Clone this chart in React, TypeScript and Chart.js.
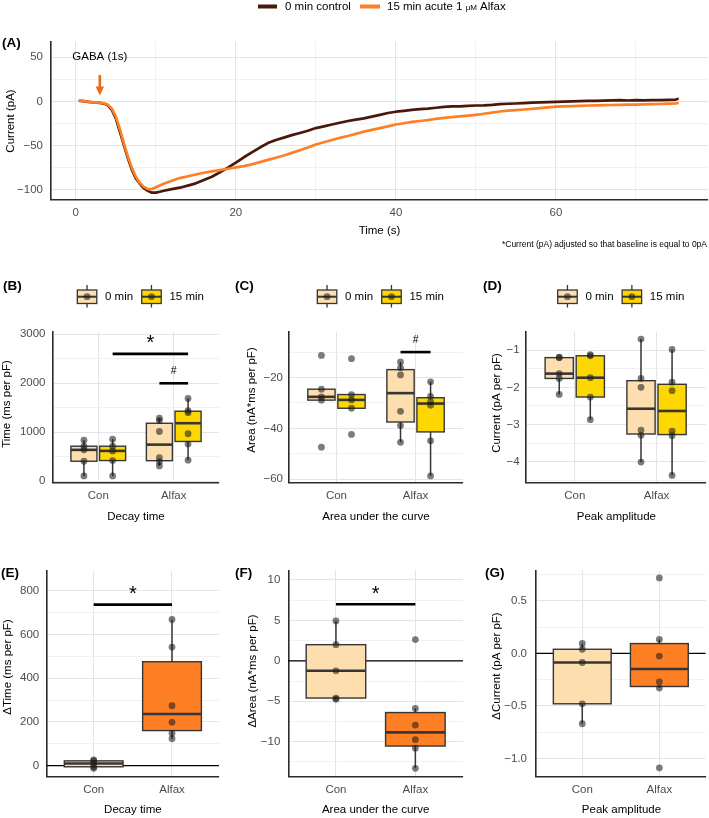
import { useEffect, useRef } from "react";
import { Chart, registerables } from "chart.js";

Chart.register(...registerables);

const W = 709;
const H = 818;
const FONT = '"Liberation Sans", Arial, Helvetica, sans-serif';

// ---------- Panel A: GABA-evoked current traces (pA) ----------
const traceTime = [
  0.5, 1, 1.5, 2, 2.5, 3, 3.5, 4, 4.5, 5, 5.5, 6, 6.5, 7, 7.5, 8, 8.5, 9, 9.5, 10, 10.5,
  11, 12, 13, 14, 15, 16, 17, 18, 19, 20,
  21, 22, 23, 24, 25, 26, 27, 28, 29, 30,
  31, 32, 33, 34, 35, 36, 37, 38, 39, 40,
  41, 42, 43, 44, 45, 46, 47, 48, 49, 50,
  51, 52, 53, 54, 55, 56, 57, 58, 59, 60,
  61, 62, 63, 64, 65, 66, 67, 68, 69, 70,
  71, 72, 73, 74, 75, 75.2,
];
const currentControl = [
  0.8, 0.4, -0.4, -0.8, -1.1, -1.5, -2.3, -4.2, -9.4, -19, -34, -49, -64, -77, -87, -93, -98, -101, -103, -103, -102,
  -100.8, -99, -97.4, -95, -92.5, -88.7, -85, -80, -74.7, -69,
  -63, -57.4, -52, -47, -43.4, -40.8, -38, -35.5, -33, -30,
  -28, -26, -24, -22, -20.5, -19, -17, -15, -13, -11.5,
  -10.5, -9.5, -8.5, -8, -7, -6, -5.5, -5.5, -5, -4.5,
  -4.3, -3.8, -3, -2.5, -2.2, -1.8, -1.2, -1, -0.6, -0.4,
  0, 0.2, 0.4, 0.7, 0.8, 1, 1.3, 1.5, 1.2, 1.5,
  1.3, 1.5, 1.7, 1.9, 2.2, 3,
];
const currentAlfax = [
  0.8, 0.4, -0.2, -0.6, -1, -1.3, -2, -3.6, -8, -17, -31, -47, -62, -75, -85, -92, -96.5, -99, -99, -97, -95,
  -93, -89.5, -86.5, -84.5, -82.5, -80.5, -79, -77.5, -76, -74.5,
  -73, -71, -68.5, -66, -63.5, -61, -58, -55, -52, -48.5,
  -46, -43.5, -41, -39, -36.5, -34, -32, -30, -28, -26,
  -24.5, -23, -22, -21, -19.5, -18.5, -17.7, -16.8, -16, -15,
  -13.8, -12.5, -11.3, -10.3, -9.7, -9, -8.3, -7.5, -6.5, -5.7,
  -5.4, -5.1, -4.8, -4.5, -4.3, -4.1, -3.9, -3.8, -3.6, -3.4,
  -3.2, -3, -2.8, -2.4, -2.1, -1.9,
];
const traceXTicks = [0, 20, 40, 60];
const traceXMinor = [10, 30, 50, 70];
const traceYTicks = [-100, -50, 0, 50];
const traceYMinor = [-75, -25, 25];

// ---------- Panels B–D: per-cell values at 0 and 15 min ----------
const groupLabels = ["Con", "Alfax"];

const decayCon0 = [838, 716, 641, 409, 109];
const decayCon15 = [859, 716, 620, 423, 109];
const decayAlfax0 = [1288, 1240, 1016, 480, 400, 314];
const decayAlfax15 = [1690, 1440, 1400, 970, 760, 430];
const decayTicks = [0, 1000, 2000, 3000];
const decayMinor = [500, 1500, 2500];

const areaCon0 = [-11.3, -24.6, -27.6, -28.9, -47.4];
const areaCon15 = [-12.6, -26.7, -28.8, -32.1, -42.4];
const areaAlfax0 = [-13.9, -16.2, -19.0, -33.3, -38.9, -45.5];
const areaAlfax15 = [-21.7, -27.4, -29.6, -30.9, -44.9, -58.7];
const areaTicks = [-60, -40, -20];
const areaMinor = [-50, -30, -10];

const peakCon0 = [-1.19, -1.2, -1.63, -1.76, -2.19];
const peakCon15 = [-1.12, -1.15, -1.74, -2.26, -2.87];
const peakAlfax0 = [-0.7, -1.76, -2.0, -3.15, -3.29, -4.01];
const peakAlfax15 = [-0.98, -1.86, -2.09, -3.18, -3.3, -4.37];
const peakTicks = [-4, -3, -2, -1];
const peakMinor = [-4.5, -3.5, -2.5, -1.5];

// ---------- Panels E–G: change from 0 to 15 min ----------
const deltaTimeCon = [26, 22, 10, -5, -12];
const deltaTimeAlfax = [668, 542, 274, 198, 148, 123];
const deltaTimeTicks = [0, 200, 400, 600, 800];
const deltaTimeMinor = [100, 300, 500, 700];

const deltaAreaCon = [4.94, 2.0, -1.23, -4.6, -4.75];
const deltaAreaAlfax = [2.63, -5.88, -7.94, -9.75, -10.8, -13.3];
const deltaAreaTicks = [-10, -5, 0, 5, 10];
const deltaAreaMinor = [-12.5, -7.5, -2.5, 2.5, 7.5];

const deltaCurrentCon = [0.096, 0.04, -0.086, -0.48, -0.67];
const deltaCurrentAlfax = [0.72, 0.134, -0.025, -0.27, -0.33, -1.09];
const deltaCurrentTicks = [-1, -0.5, 0, 0.5];
const deltaCurrentMinor = [-0.75, -0.25, 0.25, 0.75];

// ---------- styling ----------
const TICK_COLOR = "#4d4d4d";
const AXIS_COLOR = "#2b2b2b";
const GRID_MAJOR = "#e4e4e4";
const GRID_MINOR = "#eeeeee";
const EDGE = "#363636";
const C_BOX0 = "#FDDEAE";
const C_BOX15 = "#FFD700";
const C_DELTA = "#FF7F24";
const C_LINE0 = "#4a170b";
const C_LINE15 = "#FF7F27";
const C_ARROW = "#EA6A1C";
const C_POINT = "rgba(30,30,30,0.58)";
const Y_AXIS_W = 40;
const X_AXIS_H = 30;
const DODGE = 0.19;

type Rect = { l: number; t: number; r: number; b: number };

const fmtInt = (v: number) => (v < 0 ? "\u2212" + Math.abs(v) : String(v));
const fmtOne = (v: number) => (v < 0 ? "\u2212" : "") + Math.abs(v).toFixed(1);

function scaleOpts(
  min: number,
  max: number,
  major: number[],
  minor: number[],
  fmt: (v: number) => string,
  pad: number,
  axis: "x" | "y"
) {
  const all = [...major, ...minor].sort((a, b) => a - b);
  const isMajor = (v: number) => major.some((m) => Math.abs(m - v) < 1e-9);
  return {
    type: "linear" as const,
    min,
    max,
    afterBuildTicks: (s: any) => {
      s.ticks = all.map((v) => ({ value: v }));
    },
    afterFit: (s: any) => {
      if (axis === "x") s.height = X_AXIS_H;
      else s.width = Y_AXIS_W;
    },
    ticks: {
      autoSkip: false,
      maxRotation: 0,
      minRotation: 0,
      padding: pad,
      color: TICK_COLOR,
      font: { family: FONT, size: 11.5 },
      callback: (v: any) => (isMajor(Number(v)) ? fmt(Number(v)) : ""),
    },
    grid: {
      drawTicks: false,
      color: (c: any) => (c.tick && isMajor(c.tick.value) ? GRID_MAJOR : GRID_MINOR),
      lineWidth: (c: any) => (c.tick && isMajor(c.tick.value) ? 1.1 : 0.8),
    },
    border: { display: true, color: AXIS_COLOR, width: 1.6 },
  };
}

function frameOptions(area: Rect, x: any, y: any) {
  return {
    animation: false as const,
    responsive: false,
    maintainAspectRatio: false,
    devicePixelRatio: 1,
    events: [] as any[],
    layout: {
      padding: {
        left: area.l - Y_AXIS_W,
        top: area.t,
        right: W - area.r,
        bottom: H - area.b - X_AXIS_H,
      },
    },
    plugins: { legend: { display: false }, tooltip: { enabled: false } },
    scales: { x, y },
  };
}

function drawText(
  ctx: CanvasRenderingContext2D,
  str: string,
  x: number,
  y: number,
  o: { size?: number; weight?: string; align?: CanvasTextAlign; color?: string; rotate?: number } = {}
) {
  ctx.save();
  ctx.font = `${o.weight || "normal"} ${o.size || 11.5}px ${FONT}`;
  ctx.fillStyle = o.color || "#000";
  ctx.textAlign = o.align || "center";
  ctx.textBaseline = "middle";
  ctx.translate(x, y);
  if (o.rotate) ctx.rotate(o.rotate);
  ctx.fillText(str, 0, 0);
  ctx.restore();
}

// glyph drawn so that its ink is centred on (x, y)
function drawGlyph(ctx: CanvasRenderingContext2D, str: string, x: number, y: number, size: number) {
  ctx.save();
  ctx.font = `normal ${size}px ${FONT}`;
  ctx.fillStyle = "#000";
  ctx.textAlign = "center";
  ctx.textBaseline = "alphabetic";
  const m = ctx.measureText(str);
  ctx.fillText(str, x, y + (m.actualBoundingBoxAscent - m.actualBoundingBoxDescent) / 2);
  ctx.restore();
}

function quantile(sorted: number[], p: number) {
  const h = (sorted.length - 1) * p;
  const lo = Math.floor(h);
  const hi = Math.ceil(h);
  return sorted[lo] + (h - lo) * (sorted[hi] - sorted[lo]);
}

function boxStats(values: number[]) {
  const s = [...values].sort((a, b) => a - b);
  const q1 = quantile(s, 0.25);
  const med = quantile(s, 0.5);
  const q3 = quantile(s, 0.75);
  const fence = 1.5 * (q3 - q1);
  const inside = s.filter((v) => v >= q1 - fence && v <= q3 + fence);
  return {
    q1,
    med,
    q3,
    lo: Math.min(Math.min(...inside), q1),
    hi: Math.max(Math.max(...inside), q3),
  };
}

type BoxSeries = { values: number[]; x: number; fill: string };
type Sig = { x1: number; x2: number; y: number; label: string; labelX: number; labelY: number; size: number };

interface BoxPanel {
  letter: string;
  letterX: number;
  letterY: number;
  area: Rect;
  yRange: [number, number];
  yTicks: number[];
  yMinor: number[];
  yFmt: (v: number) => string;
  yPad: number;
  yTitle: string;
  yTitleX: number;
  yTitleY: number;
  xTitle: string;
  xTitleY: number;
  series: BoxSeries[];
  boxWidth: number;
  zeroLine: boolean;
  sig: Sig[];
  legendX?: number;
}

function drawBox(ctx: CanvasRenderingContext2D, xs: any, ys: any, s: BoxSeries, width: number) {
  const st = boxStats(s.values);
  const cx = xs.getPixelForValue(s.x);
  const half = (xs.getPixelForValue(s.x + width / 2) - xs.getPixelForValue(s.x - width / 2)) / 2;
  const yq1 = ys.getPixelForValue(st.q1);
  const yq3 = ys.getPixelForValue(st.q3);
  const ymed = ys.getPixelForValue(st.med);
  const ylo = ys.getPixelForValue(st.lo);
  const yhi = ys.getPixelForValue(st.hi);
  ctx.strokeStyle = EDGE;
  ctx.lineWidth = 1.5;
  ctx.beginPath();
  ctx.moveTo(cx, yhi);
  ctx.lineTo(cx, yq3);
  ctx.moveTo(cx, yq1);
  ctx.lineTo(cx, ylo);
  ctx.stroke();
  ctx.fillStyle = s.fill;
  ctx.fillRect(cx - half, yq3, 2 * half, yq1 - yq3);
  ctx.lineWidth = 1.4;
  ctx.strokeRect(cx - half, yq3, 2 * half, yq1 - yq3);
  ctx.lineWidth = 2.6;
  ctx.beginPath();
  ctx.moveTo(cx - half, ymed);
  ctx.lineTo(cx + half, ymed);
  ctx.stroke();
}

function drawBoxKey(ctx: CanvasRenderingContext2D, x0: number, fill: string) {
  const cx = x0 + 9.75;
  ctx.save();
  ctx.strokeStyle = EDGE;
  ctx.lineWidth = 1.3;
  ctx.beginPath();
  ctx.moveTo(cx, 285);
  ctx.lineTo(cx, 307.5);
  ctx.stroke();
  ctx.fillStyle = fill;
  ctx.fillRect(x0, 290, 19.5, 13.5);
  ctx.strokeRect(x0, 290, 19.5, 13.5);
  ctx.lineWidth = 2;
  ctx.beginPath();
  ctx.moveTo(x0, 296.7);
  ctx.lineTo(x0 + 19.5, 296.7);
  ctx.stroke();
  ctx.fillStyle = C_POINT;
  ctx.beginPath();
  ctx.arc(cx, 296.7, 3.4, 0, Math.PI * 2);
  ctx.fill();
  ctx.restore();
}

function buildBoxChart(canvas: HTMLCanvasElement, p: BoxPanel) {
  const datasets = p.series.map((s) => ({
    data: s.values.map((v) => ({ x: s.x, y: v })),
    showLine: false,
    pointRadius: 3.4,
    pointHoverRadius: 3.4,
    pointBackgroundColor: C_POINT,
    pointBorderWidth: 0,
    borderColor: "rgba(0,0,0,0)",
  }));
  const decor = {
    id: "boxDecor",
    beforeDatasetsDraw(chart: any) {
      const { ctx, chartArea, scales } = chart;
      ctx.save();
      if (p.zeroLine) {
        const y0 = scales.y.getPixelForValue(0);
        ctx.strokeStyle = "#000";
        ctx.lineWidth = 1.3;
        ctx.beginPath();
        ctx.moveTo(chartArea.left, y0);
        ctx.lineTo(chartArea.right, y0);
        ctx.stroke();
      }
      for (const s of p.series) drawBox(ctx, scales.x, scales.y, s, p.boxWidth);
      ctx.restore();
    },
    afterDatasetsDraw(chart: any) {
      const { ctx, scales } = chart;
      ctx.save();
      ctx.strokeStyle = "#000";
      ctx.lineWidth = 2.6;
      for (const g of p.sig) {
        const y = scales.y.getPixelForValue(g.y);
        ctx.beginPath();
        ctx.moveTo(scales.x.getPixelForValue(g.x1), y);
        ctx.lineTo(scales.x.getPixelForValue(g.x2), y);
        ctx.stroke();
        drawGlyph(ctx, g.label, scales.x.getPixelForValue(g.labelX), scales.y.getPixelForValue(g.labelY), g.size);
      }
      ctx.restore();
    },
    afterDraw(chart: any) {
      const { ctx } = chart;
      const a = p.area;
      drawText(ctx, p.letter, p.letterX, p.letterY, { size: 13.5, weight: "bold", align: "left" });
      drawText(ctx, p.yTitle, p.yTitleX, p.yTitleY, { rotate: -Math.PI / 2 });
      drawText(ctx, p.xTitle, (a.l + a.r) / 2, p.xTitleY);
      if (p.legendX !== undefined) {
        let x = p.legendX;
        const keys: [string, string][] = [
          ["0 min", C_BOX0],
          ["15 min", C_BOX15],
        ];
        ctx.save();
        ctx.font = `normal 11.5px ${FONT}`;
        for (const [label, fill] of keys) {
          drawBoxKey(ctx, x, fill);
          drawText(ctx, label, x + 27.7, 297, { align: "left" });
          x += 27.7 + ctx.measureText(label).width + 8.6;
        }
        ctx.restore();
      }
    },
  };
  const xAxis = scaleOpts(0.4, 2.6, [1, 2], [], (v) => groupLabels[Math.round(v) - 1] || "", 6, "x");
  const yAxis = scaleOpts(p.yRange[0], p.yRange[1], p.yTicks, p.yMinor, p.yFmt, p.yPad, "y");
  return new Chart(canvas, {
    type: "scatter",
    data: { datasets },
    options: frameOptions(p.area, xAxis, yAxis) as any,
    plugins: [decor],
  });
}

function buildTraceChart(canvas: HTMLCanvasElement) {
  const area: Rect = { l: 51, t: 42, r: 708, b: 200 };
  const decor = {
    id: "traceDecor",
    afterDatasetsDraw(chart: any) {
      const { ctx, scales } = chart;
      const x = scales.x.getPixelForValue(3);
      const yTop = scales.y.getPixelForValue(30);
      const yTip = scales.y.getPixelForValue(6.8);
      ctx.save();
      ctx.strokeStyle = C_ARROW;
      ctx.fillStyle = C_ARROW;
      ctx.lineWidth = 2.6;
      ctx.beginPath();
      ctx.moveTo(x, yTop);
      ctx.lineTo(x, yTip - 7);
      ctx.stroke();
      ctx.beginPath();
      ctx.moveTo(x - 4.2, yTip - 9);
      ctx.lineTo(x + 4.2, yTip - 9);
      ctx.lineTo(x, yTip);
      ctx.closePath();
      ctx.fill();
      ctx.restore();
      drawText(ctx, "GABA (1s)", x, scales.y.getPixelForValue(50));
    },
    afterDraw(chart: any) {
      const { ctx } = chart;
      drawText(ctx, "(A)", 2, 43, { size: 13.5, weight: "bold", align: "left" });
      drawText(ctx, "Current (pA)", 11, 121, { rotate: -Math.PI / 2 });
      drawText(ctx, "Time (s)", (area.l + area.r) / 2, 231);
      drawText(ctx, "*Current (pA) adjusted so that baseline is equal to 0pA", 707, 245, {
        size: 8.5,
        align: "right",
      });
      // series key
      ctx.save();
      ctx.lineWidth = 4;
      ctx.strokeStyle = C_LINE0;
      ctx.beginPath();
      ctx.moveTo(258, 6.5);
      ctx.lineTo(277, 6.5);
      ctx.stroke();
      ctx.strokeStyle = C_LINE15;
      ctx.beginPath();
      ctx.moveTo(360, 6.5);
      ctx.lineTo(380, 6.5);
      ctx.stroke();
      ctx.restore();
      drawText(ctx, "0 min control", 285, 6.5, { align: "left" });
      ctx.save();
      let x = 387;
      const parts: [string, number][] = [
        ["15 min acute 1 ", 11.5],
        ["\u03bcM", 8],
        [" Alfax", 11.5],
      ];
      for (const [str, size] of parts) {
        drawText(ctx, str, x, size < 11 ? 7.3 : 6.5, { align: "left", size });
        ctx.font = `normal ${size}px ${FONT}`;
        x += ctx.measureText(str).width;
      }
      ctx.restore();
    },
  };
  const xAxis = scaleOpts(-3.1, 79.0, traceXTicks, traceXMinor, fmtInt, 6, "x");
  const yAxis = scaleOpts(-111.3, 67.3, traceYTicks, traceYMinor, fmtInt, 8, "y");
  const line = (values: number[], color: string, order: number) => ({
    data: traceTime.map((t, i) => ({ x: t, y: values[i] })),
    showLine: true,
    borderColor: color,
    borderWidth: 2.7,
    borderJoinStyle: "round" as const,
    borderCapStyle: "round" as const,
    pointRadius: 0,
    pointHoverRadius: 0,
    order,
  });
  return new Chart(canvas, {
    type: "scatter",
    data: { datasets: [line(currentControl, C_LINE0, 2), line(currentAlfax, C_LINE15, 1)] },
    options: frameOptions(area, xAxis, yAxis) as any,
    plugins: [decor],
  });
}

const TOP_AREA = { t: 332, b: 482.5 };
const BOTTOM_AREA = { t: 570.7, b: 776.7 };

const boxPanels: BoxPanel[] = [
  {
    letter: "(B)",
    letterX: 3,
    letterY: 286,
    area: { l: 53, r: 219, ...TOP_AREA },
    yRange: [-25, 3047],
    yTicks: decayTicks,
    yMinor: decayMinor,
    yFmt: fmtInt,
    yPad: 7.5,
    yTitle: "Time (ms per pF)",
    yTitleX: 7,
    yTitleY: 404,
    xTitle: "Decay time",
    xTitleY: 516.7,
    series: [
      { values: decayCon0, x: 1 - DODGE, fill: C_BOX0 },
      { values: decayCon15, x: 1 + DODGE, fill: C_BOX15 },
      { values: decayAlfax0, x: 2 - DODGE, fill: C_BOX0 },
      { values: decayAlfax15, x: 2 + DODGE, fill: C_BOX15 },
    ],
    boxWidth: 0.345,
    zeroLine: false,
    sig: [
      { x1: 1 + DODGE, x2: 2 + DODGE, y: 2600, label: "*", labelX: 1.5 + DODGE, labelY: 2904, size: 20 },
      { x1: 2 - DODGE, x2: 2 + DODGE, y: 2000, label: "#", labelX: 2, labelY: 2277, size: 10.5 },
    ],
    legendX: 77.3,
  },
  {
    letter: "(C)",
    letterX: 235,
    letterY: 286,
    area: { l: 289, r: 463, ...TOP_AREA },
    yRange: [-61.3, -2.1],
    yTicks: areaTicks,
    yMinor: areaMinor,
    yFmt: fmtInt,
    yPad: 6,
    yTitle: "Area (nA*ms per pF)",
    yTitleX: 251.7,
    yTitleY: 400,
    xTitle: "Area under the curve",
    xTitleY: 516.7,
    series: [
      { values: areaCon0, x: 1 - DODGE, fill: C_BOX0 },
      { values: areaCon15, x: 1 + DODGE, fill: C_BOX15 },
      { values: areaAlfax0, x: 2 - DODGE, fill: C_BOX0 },
      { values: areaAlfax15, x: 2 + DODGE, fill: C_BOX15 },
    ],
    boxWidth: 0.345,
    zeroLine: false,
    sig: [{ x1: 2 - DODGE, x2: 2 + DODGE, y: -10, label: "#", labelX: 2, labelY: -4.8, size: 10.5 }],
    legendX: 317.3,
  },
  {
    letter: "(D)",
    letterX: 483,
    letterY: 286,
    area: { l: 525.7, r: 707, ...TOP_AREA },
    yRange: [-4.56, -0.51],
    yTicks: peakTicks,
    yMinor: peakMinor,
    yFmt: fmtInt,
    yPad: 6,
    yTitle: "Current (pA per pF)",
    yTitleX: 496.7,
    yTitleY: 403,
    xTitle: "Peak amplitude",
    xTitleY: 516.7,
    series: [
      { values: peakCon0, x: 1 - DODGE, fill: C_BOX0 },
      { values: peakCon15, x: 1 + DODGE, fill: C_BOX15 },
      { values: peakAlfax0, x: 2 - DODGE, fill: C_BOX0 },
      { values: peakAlfax15, x: 2 + DODGE, fill: C_BOX15 },
    ],
    boxWidth: 0.345,
    zeroLine: false,
    sig: [],
    legendX: 557.7,
  },
  {
    letter: "(E)",
    letterX: 1,
    letterY: 573,
    area: { l: 46.7, r: 219, ...BOTTOM_AREA },
    yRange: [-50.3, 891],
    yTicks: deltaTimeTicks,
    yMinor: deltaTimeMinor,
    yFmt: fmtInt,
    yPad: 7.5,
    yTitle: "\u0394Time (ms per pF)",
    yTitleX: 8.3,
    yTitleY: 667,
    xTitle: "Decay time",
    xTitleY: 810,
    series: [
      { values: deltaTimeCon, x: 1, fill: C_BOX0 },
      { values: deltaTimeAlfax, x: 2, fill: C_DELTA },
    ],
    boxWidth: 0.75,
    zeroLine: true,
    sig: [{ x1: 1, x2: 2, y: 736, label: "*", labelX: 1.5, labelY: 803, size: 20 }],
  },
  {
    letter: "(F)",
    letterX: 235,
    letterY: 573,
    area: { l: 288.3, r: 463, ...BOTTOM_AREA },
    yRange: [-14.33, 11.15],
    yTicks: deltaAreaTicks,
    yMinor: deltaAreaMinor,
    yFmt: fmtInt,
    yPad: 8,
    yTitle: "\u0394Area (nA*ms per pF)",
    yTitleX: 252.7,
    yTitleY: 671,
    xTitle: "Area under the curve",
    xTitleY: 810,
    series: [
      { values: deltaAreaCon, x: 1, fill: C_BOX0 },
      { values: deltaAreaAlfax, x: 2, fill: C_DELTA },
    ],
    boxWidth: 0.75,
    zeroLine: true,
    sig: [{ x1: 1, x2: 2, y: 7, label: "*", labelX: 1.5, labelY: 8.75, size: 20 }],
  },
  {
    letter: "(G)",
    letterX: 485,
    letterY: 573,
    area: { l: 536, r: 707, ...BOTTOM_AREA },
    yRange: [-1.175, 0.789],
    yTicks: deltaCurrentTicks,
    yMinor: deltaCurrentMinor,
    yFmt: fmtOne,
    yPad: 9,
    yTitle: "\u0394Current (pA per pF)",
    yTitleX: 496.7,
    yTitleY: 666,
    xTitle: "Peak amplitude",
    xTitleY: 810,
    series: [
      { values: deltaCurrentCon, x: 1, fill: C_BOX0 },
      { values: deltaCurrentAlfax, x: 2, fill: C_DELTA },
    ],
    boxWidth: 0.75,
    zeroLine: true,
    sig: [],
  },
];

const builders: ((c: HTMLCanvasElement) => Chart)[] = [
  buildTraceChart,
  ...boxPanels.map((p) => (c: HTMLCanvasElement) => buildBoxChart(c, p)),
];

export default function App() {
  const refs = useRef<(HTMLCanvasElement | null)[]>([]);
  useEffect(() => {
    const charts = builders.map((build, i) => build(refs.current[i] as HTMLCanvasElement));
    return () => charts.forEach((c) => c.destroy());
  }, []);
  return (
    <div style={{ position: "absolute", left: 0, top: 0, width: W, height: H, background: "#fff" }}>
      {builders.map((_, i) => (
        <canvas
          key={i}
          ref={(el) => {
            refs.current[i] = el;
          }}
          width={W}
          height={H}
          style={{ position: "absolute", left: 0, top: 0, width: W, height: H }}
        />
      ))}
    </div>
  );
}
